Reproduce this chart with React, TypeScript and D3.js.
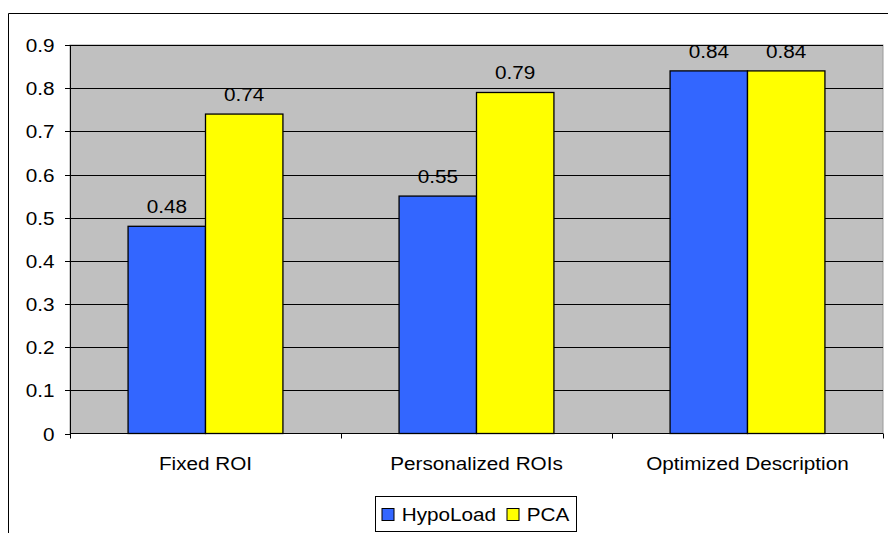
import React from "react";
import * as d3 from "d3";

const categories = ["Fixed ROI", "Personalized ROIs", "Optimized Description"];
const seriesNames = ["HypoLoad", "PCA"];
const hypoLoad = [0.48, 0.55, 0.84];
const pca = [0.74, 0.79, 0.84];
const yTicks = [0, 0.1, 0.2, 0.3, 0.4, 0.5, 0.6, 0.7, 0.8, 0.9];
const colors = ["#3366FF", "#FFFF00"];

const W = 888, H = 533;
const plot = { left: 70, right: 883, top: 45, bottom: 433.5 };
const font = "Arial, 'Liberation Sans', sans-serif";

function T({ x, y, anchor = "start", children }: { x: number; y: number; anchor?: string; children: React.ReactNode }) {
  return (
    <text transform={`translate(${x},${y}) scale(1.12,1)`} textAnchor={anchor as any} fontFamily={font} fontSize={18.5} fill="#000">
      {children}
    </text>
  );
}

export default function App() {
  const x = d3.scaleBand().domain(categories).range([plot.left, plot.right]).paddingInner(0).paddingOuter(0);
  const x1 = d3.scaleBand().domain(seriesNames).range([0, x.bandwidth()]).paddingInner(0).paddingOuter(0.75);
  const y = d3.scaleLinear().domain([0, 0.9]).range([plot.bottom, plot.top]);
  const series = [hypoLoad, pca];
  return (
    <svg width={W} height={H} style={{ position: "absolute", left: 0, top: 0 }}>
      <rect x={0} y={0} width={W} height={H} fill="#fff" />
      <path d={`M8.5,${H + 5}V13.5H${W + 5}`} fill="none" stroke="#000" strokeWidth={1} />
      <rect x={plot.left} y={plot.top} width={plot.right - plot.left} height={plot.bottom - plot.top} fill="#C0C0C0" stroke="#9a9a9a" strokeWidth={1} />
      {yTicks.slice(1).map((t) => (
        <line key={t} x1={plot.left} x2={plot.right} y1={Math.round(y(t)) + 0.5} y2={Math.round(y(t)) + 0.5} stroke="#000" strokeWidth={1} />
      ))}
      {categories.map((c, i) =>
        series.map((s, j) => {
          const bx = x(c)! + x1(seriesNames[j])!;
          const bw = x1.bandwidth();
          return (
            <g key={c + j}>
              <rect x={bx} y={y(s[i])} width={bw} height={plot.bottom - y(s[i])} fill={colors[j]} stroke="#000" strokeWidth={1.3} />
              <T x={bx + bw / 2} y={y(s[i]) - 13} anchor="middle">{s[i].toFixed(2)}</T>
            </g>
          );
        })
      )}
      <line x1={plot.left + 0.5} x2={plot.left + 0.5} y1={plot.top} y2={plot.bottom} stroke="#000" strokeWidth={1} />
      <line x1={plot.left} x2={plot.right} y1={plot.bottom} y2={plot.bottom} stroke="#000" strokeWidth={1} />
      {yTicks.map((t) => (
        <g key={"t" + t}>
          <line x1={plot.left - 5} x2={plot.left} y1={Math.round(y(t)) + 0.5} y2={Math.round(y(t)) + 0.5} stroke="#000" />
          <T x={54.5} y={y(t) + 7} anchor="end">{String(t)}</T>
        </g>
      ))}
      {[0, 1, 2, 3].map((k) => {
        const xx = plot.left + k * x.bandwidth();
        return <line key={"c" + k} x1={Math.round(xx) + 0.5} x2={Math.round(xx) + 0.5} y1={plot.bottom} y2={plot.bottom + 5} stroke="#000" />;
      })}
      {categories.map((c) => (
        <T key={c} x={x(c)! + x.bandwidth() / 2} y={469.5} anchor="middle">{c}</T>
      ))}
      <rect x={375.5} y={496.5} width={201} height={35} fill="#fff" stroke="#000" strokeWidth={1} />
      {seriesNames.map((n, j) => {
        const sx = j === 0 ? 382 : 507;
        return (
          <g key={n}>
            <rect x={sx} y={508.5} width={12} height={12} fill={colors[j]} stroke="#000" strokeWidth={1} />
            <T x={sx + 19.7} y={520.5}>{n}</T>
          </g>
        );
      })}
    </svg>
  );
}
